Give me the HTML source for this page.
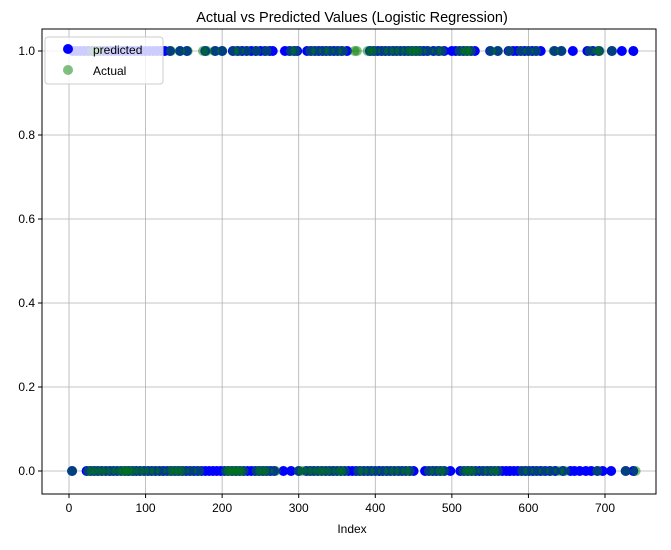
<!DOCTYPE html>
<html><head><meta charset="utf-8"><style>
body{margin:0;background:#fff}
svg{font-family:"Liberation Sans","DejaVu Sans",sans-serif}
</style></head><body>
<svg id="chart" width="671" height="545" xmlns="http://www.w3.org/2000/svg">
<text x="352" y="22" font-size="14.5" text-anchor="middle">Actual vs Predicted Values (Logistic Regression)</text>
<g id="grid"></g><g id="marks"></g><g id="axes"></g>
<text x="352" y="533" font-size="12" text-anchor="middle">Index</text>
<g>
<rect x="45" y="37" width="118" height="47" rx="3" fill="#fff" fill-opacity="0.8" stroke="#ccc"/>
<circle cx="68" cy="49" r="5" fill="#0000ff"/>
<text x="93" y="54" font-size="12">predicted</text>
<circle cx="68" cy="70" r="5" fill="#008000" fill-opacity="0.5"/>
<text x="93" y="75" font-size="12">Actual</text>
</g>
</svg>
<script>
const xTicks=[0,100,200,300,400,500,600,700];
const yTicks=[0.0,0.2,0.4,0.6,0.8,1.0];
const predOnes=[5,10,15,20,25,30,35,40,45,50,55,60,65,70,75,80,85,90,95,100,105,110,115,120,125,132,145,154,178,191,200,214,220,226,232,238,244,250,256,262,266,282,288,294,298,311,316,321,326,331,336,341,346,351,356,363,393,398,403,408,413,418,423,428,433,438,443,448,453,458,463,468,476,483,490,500,505,510,515,520,525,530,550,560,574,580,585,590,595,600,605,610,616,634,643,658,677,684,692,709,722,737];
const actualOnes=[30,35,40,133,145,155,175,180,190,200,215,222,232,245,258,290,296,315,323,333,340,350,358,373,376,390,395,400,410,418,425,432,440,446,450,455,460,470,480,487,510,517,520,525,551,560,575,590,600,610,633,643,680,690,693,709];
const predZeros=[4,23,28,33,38,43,48,53,58,63,68,73,78,83,88,93,98,103,108,113,118,123,128,133,138,143,148,153,158,163,168,173,178,183,188,193,198,203,208,213,218,223,228,233,238,243,248,253,258,263,268,280,290,300,310,315,320,325,330,335,340,345,350,355,360,365,370,375,380,385,390,395,400,405,410,415,420,425,430,435,440,445,450,465,470,475,480,485,490,498,511,516,521,526,531,536,541,546,551,556,561,566,571,576,581,586,591,596,601,606,611,616,622,628,635,645,655,660,667,675,682,690,697,708,727,737];
const actualZeros=[4,25,30,36,42,48,55,62,68,72,76,80,85,92,98,105,112,120,130,135,140,145,150,160,170,205,208,212,216,220,224,228,245,250,255,260,270,300,305,312,318,325,330,336,342,350,355,360,378,384,392,400,410,418,425,432,440,445,470,478,485,490,515,520,525,530,540,548,555,560,592,600,610,620,630,640,648,690,727,740];
const L=42,R=656,T=29,B=494;
const xs=v=>69+v*(536/700);
const ys=v=>471-v*420;
const NS="http://www.w3.org/2000/svg";
const mk=(t,a,p)=>{const e=document.createElementNS(NS,t);for(const k in a)e.setAttribute(k,a[k]);p.appendChild(e);return e;};
const grid=document.getElementById('grid'),marks=document.getElementById('marks'),axes=document.getElementById('axes');
xTicks.forEach(t=>{
 const g=mk('line',{x1:xs(t),x2:xs(t),y1:T,y2:B,stroke:'#b0b0b0','stroke-width':0.8},grid);
 
 
 mk('line',{x1:xs(t),x2:xs(t),y1:B,y2:B+4,stroke:'#000'},axes);
 const tx=mk('text',{x:xs(t),y:B+18,'font-size':12,'text-anchor':'middle'},axes);tx.textContent=t;
 
 
});
yTicks.forEach(t=>{
 const g=mk('line',{x1:L,x2:R,y1:ys(t),y2:ys(t),stroke:'#b0b0b0','stroke-width':0.8},grid);
 
 
 mk('line',{x1:L-4,x2:L,y1:ys(t),y2:ys(t),stroke:'#000'},axes);
 const tx=mk('text',{x:L-7,y:ys(t)+4,'font-size':12,'text-anchor':'end'},axes);tx.textContent=t.toFixed(1);
 
 
});
const fr=mk('rect',{x:L,y:T,width:R-L,height:B-T,fill:'none',stroke:'#000','stroke-width':1},axes);


function pts(arr,val,fill,op,name){arr.forEach(i=>{
 const c=mk('circle',{cx:xs(i),cy:ys(val),r:5,fill:fill,'fill-opacity':op},marks);
 
 
});}
pts(predOnes,1,'#0000ff',1,'predicted-point');
pts(predZeros,0,'#0000ff',1,'predicted-point');
pts(actualOnes,1,'#008000',0.5,'actual-point');
pts(actualZeros,0,'#008000',0.5,'actual-point');
</script>
</body></html>
